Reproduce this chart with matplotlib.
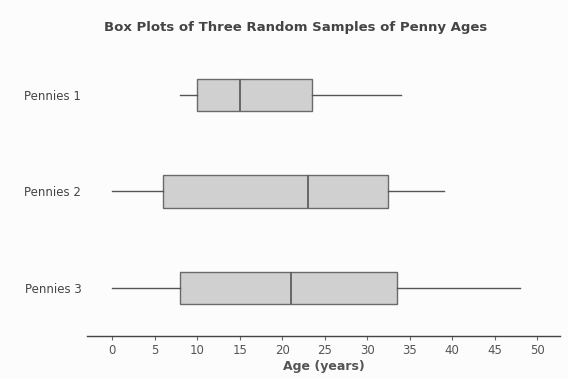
import matplotlib
matplotlib.use("Agg")
import matplotlib.pyplot as plt

# Five-number summaries (years)
samples = ["Pennies 1", "Pennies 2", "Pennies 3"]
mins = [8, 0, 0]
q1s = [10, 6, 8]
medians = [15, 23, 21]
q3s = [23.5, 32.5, 33.5]
maxs = [34, 39, 48]
xticks = [0, 5, 10, 15, 20, 25, 30, 35, 40, 45, 50]

fig = plt.figure(figsize=(5.68, 3.79), dpi=100)
fig.patch.set_facecolor("#fcfcfc")
ax = fig.add_axes([0.153, 0.1135, 0.833, 0.7625])
ax.set_facecolor("#fcfcfc")

stats = []
for name, lo, a, m, b, hi in zip(samples, mins, q1s, medians, q3s, maxs):
    stats.append(dict(label=name, whislo=lo, q1=a, med=m, q3=b, whishi=hi, fliers=[]))

positions = [3, 2, 1]
edge = "#6a6a6a"
ax.bxp(stats, positions=positions, vert=False, widths=0.333, patch_artist=True,
       showcaps=False, showfliers=False,
       boxprops=dict(facecolor="#d0d0d0", edgecolor=edge, linewidth=1.0),
       medianprops=dict(color="#5e5e5e", linewidth=1.3),
       whiskerprops=dict(color="#555555", linewidth=1.0))

ax.set_xlim(-3, 52.7)
ax.set_ylim(0.5, 3.5)
ax.set_xticks(xticks)
ax.set_yticks(positions)
ax.set_yticklabels(samples)

for s in ["top", "right", "left"]:
    ax.spines[s].set_visible(False)
ax.spines["bottom"].set_color("#444444")
ax.spines["bottom"].set_linewidth(1.0)

ax.tick_params(axis="x", length=3, color="#666666", labelsize=8.5, labelcolor="#555555", pad=3)
ax.tick_params(axis="y", length=0, labelsize=8.5, labelcolor="#444444", pad=4)

ax.set_xlabel("Age (years)", fontsize=9, fontweight="bold", color="#555555", labelpad=2)
fig.suptitle("Box Plots of Three Random Samples of Penny Ages", x=0.52, y=0.945,
             fontsize=9.5, fontweight="bold", color="#444444")

fig.savefig("out.png", dpi=100, facecolor=fig.get_facecolor())
